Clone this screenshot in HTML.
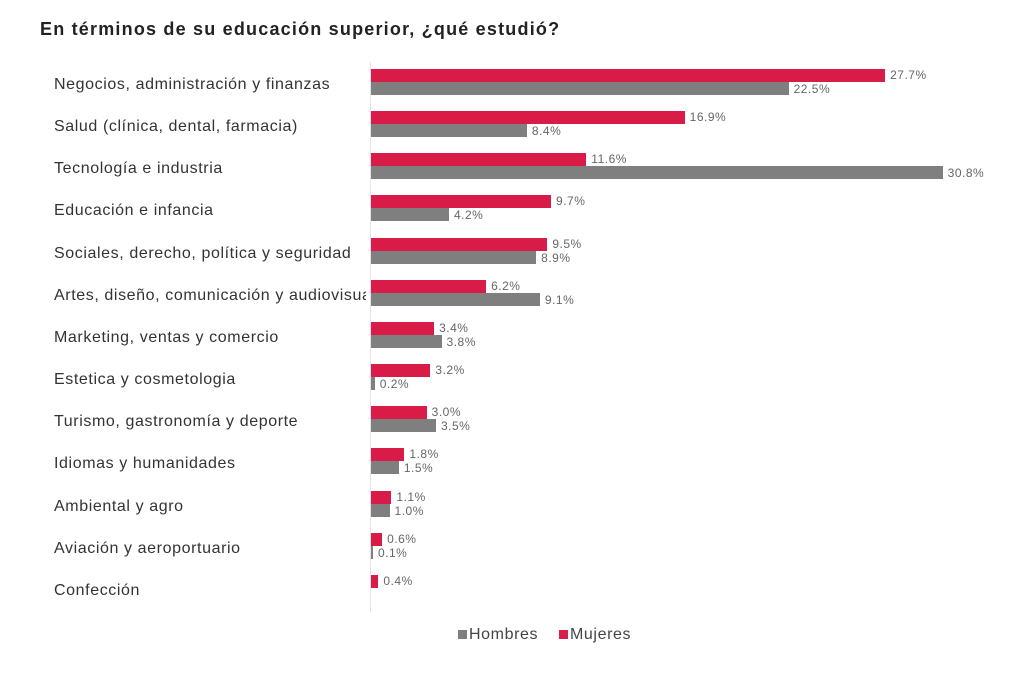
<!DOCTYPE html>
<html><head><meta charset="utf-8"><style>
body{margin:0;width:1024px;height:674px;background:#fff;position:relative;font-family:"Liberation Sans",sans-serif;overflow:hidden}
.t{position:absolute;left:40px;top:19px;font-size:18px;font-weight:bold;color:#222;letter-spacing:1.2px}
.l{position:absolute;left:54px;font-size:16px;letter-spacing:0.6px;color:#333;white-space:nowrap;width:312px;overflow:hidden}
.b{position:absolute;left:371px;height:13px}
.p{background:#d81b47}.g{background:#7f7f7f}
.v{position:absolute;font-size:12px;letter-spacing:0.5px;color:#666}
.ax{position:absolute;left:370px;top:62px;width:1px;height:550px;background:#e4e4e4}
.lg{position:absolute;top:626px;font-size:16px;letter-spacing:0.6px;color:#444}
.lg i{display:inline-block;width:9px;height:9px;margin-right:2px}
</style></head><body>
<div class="t">En términos de su educación superior, ¿qué estudió?</div>
<div class="ax"></div>
<div id="c"></div>
<div class="lg" style="left:458px"><i class="g"></i>Hombres</div>
<div class="lg" style="left:559px"><i class="p"></i>Mujeres</div>
<script>
var d=[["Negocios, administración y finanzas",27.7,22.5],["Salud (clínica, dental, farmacia)",16.9,8.4],["Tecnología e industria",11.6,30.8],["Educación e infancia",9.7,4.2],["Sociales, derecho, política y seguridad",9.5,8.9],["Artes, diseño, comunicación y audiovisual",6.2,9.1],["Marketing, ventas y comercio",3.4,3.8],["Estetica y cosmetologia",3.2,0.2],["Turismo, gastronomía y deporte",3.0,3.5],["Idiomas y humanidades",1.8,1.5],["Ambiental y agro",1.1,1.0],["Aviación y aeroportuario",0.6,0.1],["Confección",0.4,null]];
var s=18.56,h="";
d.forEach(function(r,i){var y=69+i*42.15;
h+='<div class="l" style="top:'+(y+7)+'px">'+r[0]+'</div>';
var w=Math.max(r[1]*s,2);h+='<div class="b p" style="top:'+y+'px;width:'+w+'px"></div><div class="v" style="top:'+(y-1)+'px;left:'+(371+w+5)+'px">'+r[1].toFixed(1)+'%</div>';
if(r[2]!=null){w=Math.max(r[2]*s,2);h+='<div class="b g" style="top:'+(y+13)+'px;width:'+w+'px"></div><div class="v" style="top:'+(y+13)+'px;left:'+(371+w+5)+'px">'+r[2].toFixed(1)+'%</div>';}
});
document.getElementById('c').innerHTML=h;
</script>
</body></html>
